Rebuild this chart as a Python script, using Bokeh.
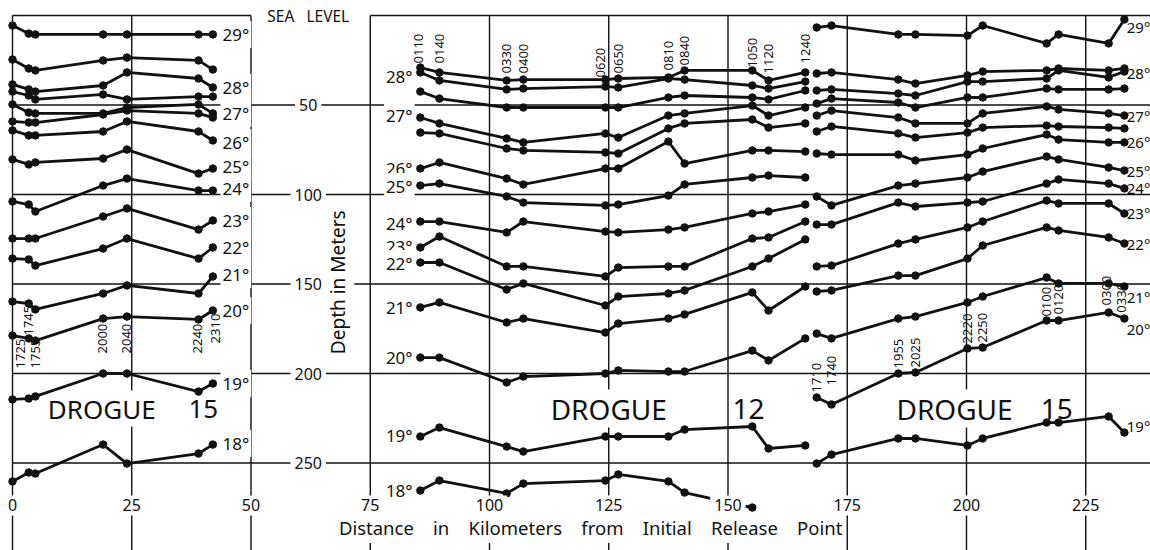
import math
from bokeh.plotting import figure
from bokeh.models import Range1d, Label
from bokeh.embed import file_html
from bokeh.resources import INLINE

FONT = "Noto Sans"
INK = "#111111"

# ---------------- data ----------------
x_ticks = [0, 25, 50, 75, 100, 125, 150, 175, 200, 225]
depth_ticks = [50, 100, 150, 200, 250]

# Left panel: Drogue 15 (km)
left_x = [0, 3.4, 4.8, 19, 24, 39, 42]
left_times = ["1725", "1745", "1755", "2000", "2040", "2240", "2310"]
left_29 = [5.6, 10.1, 10.6, 10.6, 10.6, 10.6, 10.6]
left_285 = [24.6, 29.6, 30.7, 25.1, 23.5, 25.1, 30.2]
left_28 = [38.5, 41.3, 42.5, 39.1, 31.8, 35.2, 40.2]
left_275 = [42.5, 44.7, 46.9, 44.1, 46.9, 45.3, 45.3]
left_27 = [49.7, 54.2, 54.7, 54.7, 51.4, 49.7, 54.7]
left_265 = [59.2, 59.8, 59.8, 55.3, 53.1, 54.7, 57.0]
left_26 = [64.2, 67.0, 67.0, 64.8, 59.2, 64.8, 69.8]
left_25 = [80.4, 83.2, 82.1, 79.9, 74.9, 88.3, 85.5]
left_24 = [103.9, 105.6, 109.5, 95.0, 91.1, 97.8, 97.8]
left_23 = [124.6, 124.6, 124.6, 112.3, 107.8, 119.6, 114.5]
left_22 = [135.8, 136.3, 139.7, 130.2, 124.6, 135.8, 129.6]
left_21 = [159.8, 160.9, 164.2, 155.3, 150.8, 155.3, 145.8]
left_20 = [178.8, 180.4, 181.6, 169.3, 168.2, 169.8, 164.8]
left_19 = [214.5, 214.0, 212.8, 200.0, 200.0, 210.1, 205.6]
left_18 = [260.3, 255.3, 255.9, 239.7, 250.3, 244.7, 239.7]

# Middle panel: Drogue 12
mid_x = [85.5, 89.5, 103.6, 107.1, 124.3, 127.0, 137.5, 140.9, 155.1, 158.5, 166.2]
mid_times = ["0110", "0140", "0330", "0400", "0620", "0650", "0810", "0840", "1050", "1120", "1240"]
mid_285 = [29.1, 31.8, 36.3, 35.8, 35.8, 35.2, 34.6, 30.7, 30.7, 36.3, 31.8]
mid_28 = [31.8, 36.3, 41.3, 40.8, 39.7, 40.2, 35.2, 35.8, 39.1, 40.8, 36.9]
mid_275 = [42.5, 46.4, 51.4, 51.4, 51.4, 51.4, 45.8, 44.7, 45.8, 46.9, 41.9]
mid_27 = [57.0, 60.3, 68.7, 70.9, 65.9, 68.2, 55.9, 54.7, 50.3, 55.9, 51.4]
mid_265 = [65.4, 65.9, 74.3, 75.4, 76.5, 77.1, 63.1, 60.3, 58.1, 62.6, 60.3]
mid_26 = [85.5, 82.1, 91.1, 94.4, 85.5, 85.5, 70.4, 82.7, 75.4, 75.4, 76.0]
mid_25 = [95.0, 93.9, 101.1, 104.5, 106.1, 105.6, 100.6, 94.4, 90.5, 89.4, 90.5]
mid_24 = [115.1, 115.1, 121.2, 115.1, 120.7, 121.2, 119.6, 118.4, 110.6, 109.5, 105.6]
mid_23 = [129.6, 123.5, 140.2, 140.2, 145.8, 140.8, 140.2, 140.2, 124.6, 124.0, 115.1]
mid_22 = [138.0, 138.0, 153.1, 149.7, 162.0, 157.0, 155.3, 153.6, 140.2, 135.8, 125.1]
mid_21 = [163.1, 160.3, 171.5, 169.3, 177.1, 172.1, 169.3, 167.0, 154.7, 164.8, 151.4]
mid_20 = [191.1, 191.1, 205.0, 201.7, 200.0, 198.3, 198.9, 198.9, 187.2, 192.7, 180.4]
mid_19 = [235.2, 230.2, 240.8, 243.6, 235.2, 235.2, 235.2, 231.3, 229.6, 241.9, 240.2]
mid_18 = [265.4, 259.8, 267.0, 261.5, 259.8, 256.4, 260.3, 266.5, 274.9]

# Right panel: Drogue 15
right_x = [168.6, 171.7, 185.7, 189.3, 200.2, 203.4, 216.8, 219.3, 229.8, 233.1]
right_times = ["1710", "1740", "1955", "2025", "2220", "2250", "0100", "0120", "0300", "0330"]
right_29 = [6.7, 5.6, 10.6, 10.6, 11.2, 5.6, 15.6, 10.6, 15.6, 2.2]
right_285 = [32.4, 31.8, 35.8, 38.0, 33.5, 31.3, 30.7, 29.6, 30.7, 29.6]
right_28 = [41.9, 41.3, 43.6, 44.7, 36.9, 36.9, 35.2, 30.7, 34.6, 31.3]
right_275 = [49.2, 46.4, 48.6, 51.4, 45.8, 45.8, 40.8, 41.3, 41.3, 40.8]
right_27 = [55.9, 53.1, 57.0, 60.3, 60.3, 54.7, 50.8, 52.5, 54.7, 55.9]
right_265 = [64.8, 62.0, 65.9, 68.2, 65.4, 62.6, 61.5, 62.0, 62.6, 63.1]
right_26 = [77.1, 77.7, 77.7, 81.0, 77.7, 74.3, 66.5, 69.3, 70.9, 70.9]
right_25 = [101.1, 106.1, 95.0, 93.9, 90.5, 87.2, 78.8, 80.4, 84.9, 86.6]
right_24 = [116.8, 116.8, 104.5, 106.7, 104.5, 103.9, 93.9, 91.6, 93.9, 96.6]
right_23 = [140.2, 139.7, 127.4, 125.1, 118.4, 115.1, 103.4, 105.0, 105.0, 110.6]
right_22 = [154.2, 153.6, 145.3, 145.3, 135.8, 128.5, 118.4, 120.1, 124.0, 127.4]
right_21 = [177.7, 180.4, 169.3, 168.2, 160.3, 157.0, 146.4, 149.7, 149.7, 151.4]
right_20 = [213.4, 217.3, 200.0, 199.4, 186.0, 185.5, 170.4, 170.4, 165.9, 169.3]
right_19 = [250.3, 245.3, 236.3, 236.3, 240.2, 236.3, 227.4, 227.4, 224.0, 233.0]

# isotherm label text and depth where each label sits
left_labels = ["29°", "28°", "27°", "26°", "25°", "24°", "23°", "22°", "21°", "20°", "19°", "18°"]
left_label_depth = [10.6, 40.2, 54.7, 70.9, 84.4, 96.6, 114.5, 129.6, 144.7, 164.8, 205.6, 239.1]
mid_labels = ["28°", "27°", "26°", "25°", "24°", "23°", "22°", "21°", "20°", "19°", "18°"]
mid_label_depth = [34.1, 55.9, 85.5, 95.5, 116.2, 129.1, 138.5, 163.1, 191.1, 234.6, 265.4]
right_labels = ["29°", "28°", "27°", "26°", "25°", "24°", "23°", "22°", "21°", "20°", "19°"]
right_label_depth = [6.7, 32.4, 55.9, 70.9, 86.6, 96.6, 110.6, 127.4, 157.5, 175.4, 229.1]

# time labels: km position and depth of the label's lower end
left_time_x = [1.7, 3.4, 4.8, 18.9, 23.9, 38.8, 42.6]
left_time_depth = [197.2, 178.8, 197.2, 188.8, 188.8, 188.8, 183.2]
mid_time_x = [85.1, 89.5, 103.6, 107.1, 123.3, 127.0, 137.5, 140.9, 155.1, 158.5, 166.2]
mid_time_depth = [26.8, 26.8, 32.4, 32.4, 34.6, 32.4, 30.7, 27.9, 29.1, 32.4, 26.8]
right_time_x = [168.6, 171.7, 185.7, 189.3, 200.2, 203.4, 216.8, 219.3, 229.3, 232.4]
right_time_depth = [210.6, 206.7, 197.2, 196.6, 183.2, 182.7, 168.2, 167.0, 162.0, 166.0]

left_series = [left_29, left_285, left_28, left_275, left_27, left_265, left_26, left_25,
               left_24, left_23, left_22, left_21, left_20, left_19, left_18]
mid_series = [mid_285, mid_28, mid_275, mid_27, mid_265, mid_26, mid_25, mid_24,
              mid_23, mid_22, mid_21, mid_20, mid_19]
right_series = [right_29, right_285, right_28, right_275, right_27, right_265, right_26,
                right_25, right_24, right_23, right_22, right_21, right_20, right_19]

# ---------------- figure ----------------
PX_PER_KM = 4.77
PX_PER_M = 1.79
W, H = 1150, 550
x0 = -12 / PX_PER_KM
x1 = (W - 12) / PX_PER_KM
d0 = -15 / PX_PER_M
d1 = (H - 15) / PX_PER_M

p = figure(width=W, height=H, x_range=Range1d(x0, x1), y_range=Range1d(d1, d0),
           output_backend="svg", toolbar_location=None,
           x_axis_location=None, y_axis_location=None,
           min_border=0, outline_line_color=None)
p.grid.grid_line_color = None
p.background_fill_color = "white"
p.border_fill_color = "white"

# frame: vertical lines at each km tick, horizontal lines at each depth tick
p.segment(x0=x_ticks, y0=[0] * len(x_ticks), x1=x_ticks, y1=[d1] * len(x_ticks),
          line_color=INK, line_width=1.4)
p.segment(x0=[0] * len(depth_ticks), y0=depth_ticks, x1=[x1] * len(depth_ticks), y1=depth_ticks,
          line_color=INK, line_width=1.4)
# sea level line (broken around the caption)
p.segment(x0=[0, 75], y0=[0, 0], x1=[50, x1], y1=[0, 0], line_color=INK, line_width=1.4)

# isotherms (drawn above the white caption boxes so they stay continuous)
for xs, group in ((left_x, left_series), (mid_x, mid_series), (right_x, right_series)):
    for ys in group:
        xx = xs[:len(ys)]
        r1 = p.line(xx, ys, line_color=INK, line_width=2.8)
        r2 = p.scatter(xx, ys, size=7.5, color=INK)
        r1.level = "overlay"
        r2.level = "overlay"

# mid-panel 18° line: stays under the "150" tick label, as in the original
p.line(mid_x[:len(mid_18)], mid_18, line_color=INK, line_width=2.8)
p.scatter(mid_x[:len(mid_18)], mid_18, size=7.5, color=INK)
p.line([mid_x[8] - 2.0, mid_x[8]], [mid_18[-1] - 0.8, mid_18[-1]], line_color=INK, line_width=2.8)


def lab(x, y, text, size="17px", align="center", baseline="middle", bg=True, angle=0.0, pad=2):
    kw = dict(x=x, y=y, text=text, text_font=FONT, text_font_size=size,
              text_color=INK, text_align=align, text_baseline=baseline, angle=angle)
    if bg:
        kw.update(background_fill_color="white", padding=pad)
    p.add_layout(Label(**kw))


# isotherm labels
for t, d in zip(left_labels, left_label_depth):
    lab(43.6, d, t, align="left")
for t, d in zip(mid_labels, mid_label_depth):
    lab(84.3, d, t, align="right")
for t, d in zip(right_labels, right_label_depth):
    lab(233.6, d, t, size="15px", align="left", bg=False)

# time labels (rotated)
for xs, ts, ds in ((left_time_x, left_times, left_time_depth),
                   (mid_time_x, mid_times, mid_time_depth),
                   (right_time_x, right_times, right_time_depth)):
    for xv, t, dv in zip(xs, ts, ds):
        lab(xv, dv, t, size="13px", align="left", baseline="middle", bg=False, angle=math.pi / 2)

# depth tick labels
for d in depth_ticks:
    lab(62.0, d, str(d), size="16px", pad=4)

# km tick labels
for k in x_ticks:
    lab(k, 273.7, str(k), size="16px", pad=4)

lab(62.0, 0.5, "SEA\u00a0\u00a0\u00a0LEVEL", size="15.5px", pad=5)
lab(68.3, 149.0, "Depth in Meters", size="19px", angle=math.pi / 2, pad=3)
GAP = "\u00a0\u00a0\u00a0 "
lab(121.2, 286.0, GAP.join(["Distance", "in", "Kilometers", "from", "Initial", "Release", "Point"]),
    size="18.5px", pad=3)

# drogue captions
lab(18.7, 219.6, "DROGUE", size="26px", pad=0)
lab(40.0, 219.6, "15", size="26px", pad=0)
lab(125.0, 219.6, "DROGUE", size="28px", pad=0)
lab(154.3, 219.6, "12", size="28px", pad=0)
lab(197.5, 219.6, "DROGUE", size="28px", pad=0)
lab(218.9, 219.6, "15", size="28px", pad=0)

open("out.html", "w").write(file_html(p, INLINE))
